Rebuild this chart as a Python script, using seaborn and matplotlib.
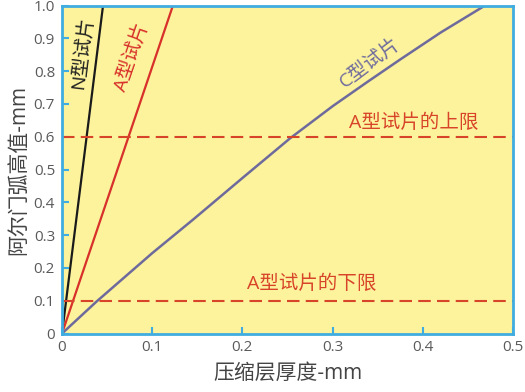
import matplotlib
matplotlib.use("Agg")
import matplotlib.pyplot as plt
import seaborn as sns
import pandas as pd

# data
n_x = [0.0, 0.0455]
n_y = [0.0, 1.0]
a_x = [0.0, 0.123]
a_y = [0.0, 1.0]
c_x = [0.0, 0.0385, 0.1, 0.1456, 0.2, 0.2528, 0.3, 0.338, 0.3747, 0.42, 0.469]
c_y = [0.0, 0.098, 0.245, 0.348, 0.474, 0.595, 0.693, 0.766, 0.835, 0.918, 1.0]
upper_limit = 0.6
lower_limit = 0.1
x_ticks = [0, 0.1, 0.2, 0.3, 0.4, 0.5]
x_tick_labels = ["0", "0.1", "0.2", "0.3", "0.4", "0.5"]
y_ticks = [0, 0.1, 0.2, 0.3, 0.4, 0.5, 0.6, 0.7, 0.8, 0.9, 1.0]
y_tick_labels = ["0", "0.1", "0.2", "0.3", "0.4", "0.5", "0.6", "0.7", "0.8", "0.9", "1.0"]

sns.set_theme(style="ticks")
plt.rcParams['font.family'] = ['Open Sans', 'Noto Sans CJK SC', 'DejaVu Sans']

spine_c = '#40ace0'
fig = plt.figure(figsize=(5.25, 3.92), dpi=100)
ax = fig.add_axes([0.1181, 0.1492, 0.859, 0.8367])
ax.set_facecolor('#fcf39c')

sns.lineplot(x=n_x, y=n_y, ax=ax, color='#1a1a1a', lw=1.6)
sns.lineplot(x=a_x, y=a_y, ax=ax, color='#d8302a', lw=1.6)
sns.lineplot(x=c_x, y=c_y, ax=ax, color='#6e6a9c', lw=1.8)
ax.axhline(upper_limit, color='#d8442a', lw=1.5, ls=(0, (6, 3)))
ax.axhline(lower_limit, color='#d8442a', lw=1.5, ls=(0, (6, 3)))

ax.set_xlim(0, 0.5)
ax.set_ylim(0, 1.0)
ax.set_xticks(x_ticks)
ax.set_xticklabels(x_tick_labels)
ax.set_yticks(y_ticks)
ax.set_yticklabels(y_tick_labels)
ax.tick_params(direction='in', length=5, width=1.5, color=spine_c,
               labelcolor='#5a5a5a', labelsize=11, pad=5)
for s in ax.spines.values():
    s.set_color(spine_c)
    s.set_linewidth(2)

ax.set_xlabel('压缩层厚度-mm', fontsize=15, color='#444444', labelpad=5)
ax.set_ylabel('阿尔门弧高值-mm', fontsize=15, color='#444444', labelpad=3)

ax.text(0.0225, 0.856, 'N型试片', rotation=83, ha='center', va='center',
        fontsize=14, color='#222222', rotation_mode='anchor')
ax.text(0.0776, 0.844, 'A型试片', rotation=71, ha='center', va='center',
        fontsize=14, color='#d8302a', rotation_mode='anchor')
ax.text(0.341, 0.825, 'C型试片', rotation=37, ha='center', va='center',
        fontsize=14, color='#6e6a9c', rotation_mode='anchor')
ax.text(0.39, 0.643, 'A型试片的上限', ha='center', va='center',
        fontsize=14, color='#d8442a')
ax.text(0.277, 0.151, 'A型试片的下限', ha='center', va='center',
        fontsize=14, color='#d8442a')

fig.savefig('out.png', dpi=100)
